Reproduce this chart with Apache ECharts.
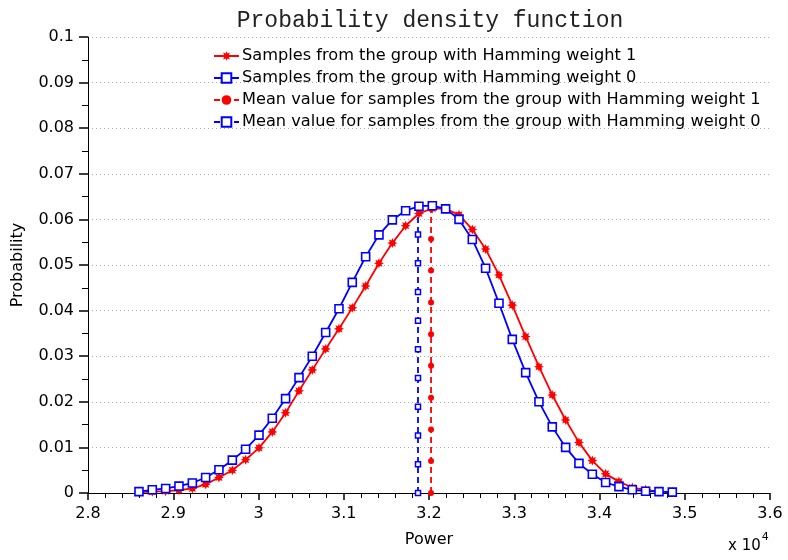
<!DOCTYPE html>
<html>
<head>
<meta charset="utf-8">
<script src="https://cdn.jsdelivr.net/npm/echarts@6/dist/echarts.min.js"></script>
<style>html,body{margin:0;padding:0;background:#fff}#c{width:788px;height:560px}</style>
</head>
<body>
<div id="c"></div>
<script>
// x positions (Power)
const powerX = [28598,28754,28911,29067,29224,29380,29536,29693,29849,30006,30162,30318,30475,30631,30788,30944,31100,31257,31413,31570,31726,31882,32039,32195,32352,32508,32664,32821,32977,33134,33290,33446,33603,33759,33916,34072,34228,34385,34541,34698,34854];
// Hamming weight 1 samples
const hw1 = [0.0002,0.0003,0.0004,0.0006,0.0010,0.0019,0.0034,0.0050,0.0073,0.0099,0.0134,0.0176,0.0224,0.0270,0.0316,0.0360,0.0406,0.0454,0.0504,0.0548,0.0586,0.0613,0.0624,0.0623,0.0610,0.0578,0.0535,0.0478,0.0412,0.0343,0.0277,0.0215,0.0160,0.0111,0.0071,0.0042,0.0025,0.0012,0.0007,0.0003,0.0002];
// Hamming weight 0 samples
const hw0 = [0.0003,0.0007,0.0010,0.0015,0.0022,0.0034,0.0051,0.0072,0.0096,0.0127,0.0164,0.0207,0.0253,0.0300,0.0352,0.0404,0.0462,0.0518,0.0566,0.0599,0.0619,0.0629,0.0630,0.0623,0.0600,0.0556,0.0493,0.0416,0.0337,0.0264,0.0200,0.0145,0.0100,0.0065,0.0041,0.0023,0.0014,0.0007,0.0004,0.0003,0.0002];
// mean values
const meanHw1X = 32024;
const meanHw0X = 31871;
const meanHw1Y = [0,0.0070,0.0139,0.0209,0.0279,0.0348,0.0418,0.0488,0.0557,0.0627];
const meanHw0Y = [0,0.0063,0.0126,0.0189,0.0252,0.0315,0.0378,0.0441,0.0504,0.0567,0.0630];
// axis ticks
const xTicks = ['2.8','2.9','3','3.1','3.2','3.3','3.4','3.5','3.6'];
const names = [
  'Samples from the group with Hamming weight 1',
  'Samples from the group with Hamming weight 0',
  'Mean value for samples from the group with Hamming weight 1',
  'Mean value for samples from the group with Hamming weight 0'
];

// 8-pointed star marker path
function starPath(){
  let p = [];
  for (let k = 0; k < 16; k++) {
    const a = k * Math.PI / 8 - Math.PI/2;
    const r = (k % 2 === 0) ? 10 : 5.5;
    p.push((k===0?'M':'L') + (10 + r*Math.cos(a)).toFixed(2) + ' ' + (10 + r*Math.sin(a)).toFixed(2));
  }
  return 'path://' + p.join(' ') + ' Z';
}
const STAR = starPath();
const FONT = 'DejaVu Sans, Liberation Sans, Arial, sans-serif';

const chart = echarts.init(document.getElementById('c'), null, {renderer:'canvas'});
chart.setOption({
  animation: false,
  backgroundColor: '#fff',
  title: {
    text: 'Probability density function',
    left: 425, top: 4, textAlign: 'center',
    textStyle: {fontFamily: 'Liberation Mono, Courier New, monospace', fontSize: 23, fontWeight: 'normal', color: '#222'}
  },
  grid: {left: 88, right: 18, top: 37, bottom: 67, containLabel: false, outerBoundsMode: 'none'},
  legend: {
    orient: 'vertical', left: 213, top: 48, padding: 0,
    itemWidth: 25, itemHeight: 12, itemGap: 6.0,
    textStyle: {fontFamily: FONT, fontSize: 16.2, color: '#000', padding: [0,0,0,-2]},
    data: names
  },
  xAxis: {
    type: 'value', min: 28000, max: 36000, interval: 1000,
    name: 'Power', nameLocation: 'middle', nameGap: 39,
    nameTextStyle: {fontFamily: FONT, fontSize: 16, color: '#000'},
    axisLine: {lineStyle: {color: '#000', width: 1}},
    axisTick: {show: true, inside: false, length: 7, lineStyle: {color: '#000', width: 1.5}},
    minorTick: {show: true, splitNumber: 5, length: 5, lineStyle: {color: '#000', width: 1}},
    splitLine: {show: false},
    axisLabel: {fontFamily: FONT, fontSize: 16, color: '#000', margin: 13,
      formatter: v => xTicks[Math.round((v - 28000)/1000)]}
  },
  yAxis: {
    type: 'value', min: 0, max: 0.1, interval: 0.01,
    name: 'Probability', nameLocation: 'middle', nameGap: 62, nameRotate: 90,
    nameTextStyle: {fontFamily: FONT, fontSize: 16, color: '#000'},
    axisLine: {show: true, lineStyle: {color: '#000', width: 1}},
    axisTick: {show: true, inside: false, length: 9, lineStyle: {color: '#000', width: 1.5}},
    minorTick: {show: true, splitNumber: 2, length: 6, lineStyle: {color: '#000', width: 1}},
    splitLine: {show: true, lineStyle: {color: '#aaa', type: [1,3], width: 1}},
    axisLabel: {fontFamily: FONT, fontSize: 16, color: '#000', margin: 14,
      formatter: v => String(+v.toFixed(2))}
  },
  series: [
    {
      name: names[0], type: 'line',
      data: powerX.map((x,i) => [x, hw1[i]]),
      symbol: STAR, symbolSize: 10, showAllSymbol: true,
      lineStyle: {color: '#ff0000', width: 1.8},
      itemStyle: {color: '#ff0000', borderWidth: 0},
      z: 3
    },
    {
      name: names[1], type: 'line',
      data: powerX.map((x,i) => [x, hw0[i]]),
      symbol: 'rect', symbolSize: 8, showAllSymbol: true,
      lineStyle: {color: '#0000ff', width: 1.8},
      itemStyle: {color: '#ffffff', borderColor: '#0000ff', borderWidth: 1.6},
      z: 4
    },
    {
      name: names[2], type: 'line',
      data: meanHw1Y.map(y => [meanHw1X, y]),
      symbol: 'circle', symbolSize: 6, showAllSymbol: true,
      lineStyle: {color: '#ff0000', width: 1.8, type: [6,4]},
      itemStyle: {color: '#ff0000', borderWidth: 0},
      z: 2
    },
    {
      name: names[3], type: 'line',
      data: meanHw0Y.map(y => [meanHw0X, y]),
      symbol: 'rect', symbolSize: 5, showAllSymbol: true,
      lineStyle: {color: '#0000ff', width: 1.8, type: [6,4]},
      itemStyle: {color: '#ffffff', borderColor: '#0000ff', borderWidth: 1.5},
      z: 2
    }
  ],
  graphic: [{
    type: 'text', left: 728, top: 532,
    style: {
      text: '{a|x 10}{b|4}',
      rich: {
        a: {fontFamily: FONT, fontSize: 15, fill: '#000', verticalAlign: 'bottom', lineHeight: 22},
        b: {fontFamily: FONT, fontSize: 11, fill: '#000', verticalAlign: 'top', lineHeight: 22, padding: [0,0,10,1]}
      }
    }
  }]
});
</script>
</body>
</html>
